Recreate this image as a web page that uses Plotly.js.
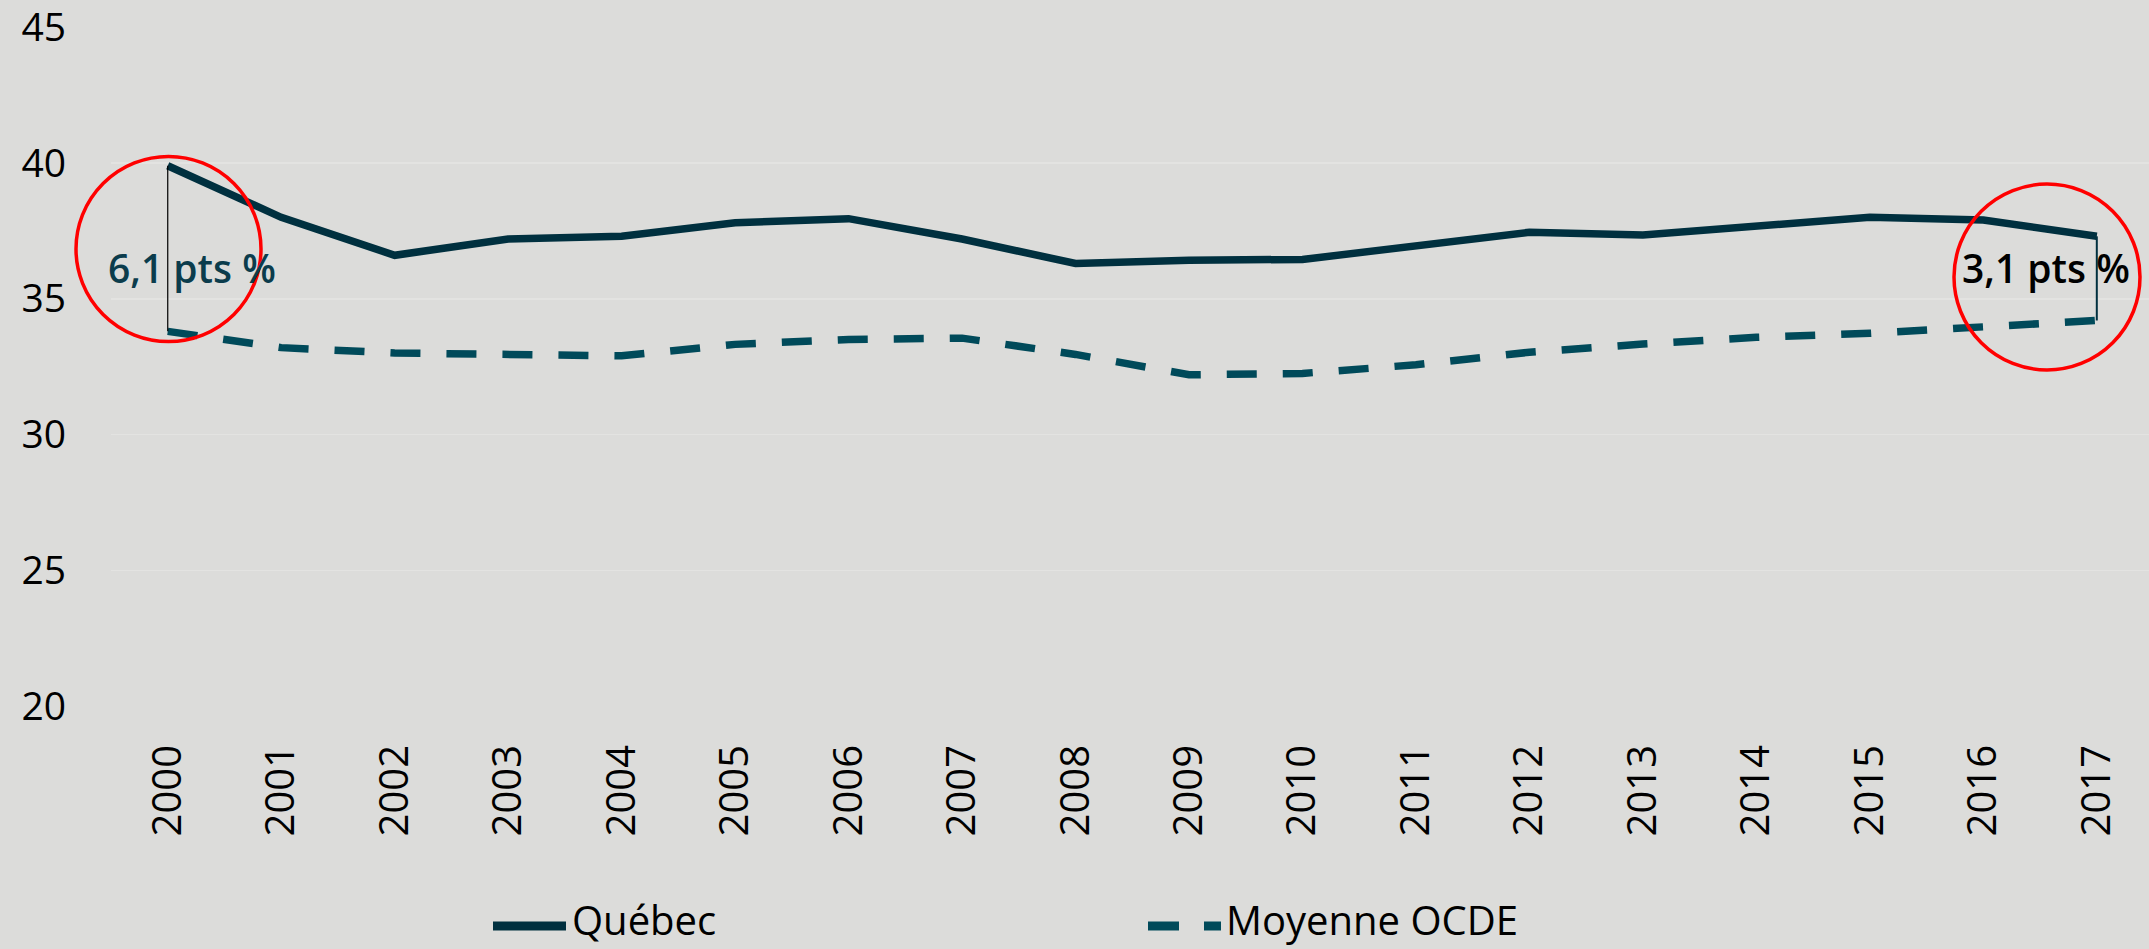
<!DOCTYPE html>
<html>
<head>
<meta charset="utf-8">
<script src="https://cdn.plot.ly/plotly-3.0.1.min.js"></script>
<style>
html,body{margin:0;padding:0;background:#dcdcda;}
#chart{width:2149px;height:949px;}
</style>
</head>
<body>
<div id="chart"></div>
<script>
const years = [2000,2001,2002,2003,2004,2005,2006,2007,2008,2009,2010,2011,2012,2013,2014,2015,2016,2017];
const quebec = [39.9,38.0,36.6,37.2,37.3,37.8,37.95,37.2,36.3,36.42,36.45,36.95,37.45,37.35,37.65,38.0,37.9,37.3];
const ocde = [33.8,33.2,33.0,32.92,32.9,33.32,33.5,33.55,32.95,32.2,32.25,32.57,33.03,33.33,33.58,33.73,33.98,34.2];
const seriesNames = ['Québec','Moyenne OCDE'];
const yTicks = [20,25,30,35,40,45];
const gapLabels = ['6,1 pts %','3,1 pts %'];

const bg = '#dcdcda';
const cQ = '#00303f';
const cO = '#004a5a';
const W = 2149, H = 949, ML = 111, MT = 27, MB = 243;
const PW = W - ML, PH = H - MT - MB;
const px2x = p => (p - ML) / PW;
const py2y = p => (H - MB - p) / PH;

const traces = [
  {x: years, y: quebec, name: seriesNames[0], type: 'scatter', mode: 'lines',
   line: {color: cQ, width: 7.5}, showlegend: false},
  {x: years, y: ocde, name: seriesNames[1], type: 'scatter', mode: 'lines',
   line: {color: cO, width: 7.5, dash: '30px,26px'}, showlegend: false}
];

const first = 0, last = years.length - 1;
const legY = py2y(926);
const layout = {
  width: W, height: H,
  paper_bgcolor: bg, plot_bgcolor: bg,
  margin: {l: ML, r: 0, t: MT, b: MB},
  font: {family: 'Open Sans, sans-serif', color: '#000'},
  xaxis: {
    range: [1999.5, 2017.46], tickmode: 'array', tickvals: years, ticktext: years.map(String),
    tickangle: -90, showgrid: false, zeroline: false, showline: false, ticks: '',
    tickfont: {size: 40, color: '#000'}, ticklabelstandoff: 30
  },
  yaxis: {
    range: [20, 45.01], tickmode: 'array', tickvals: yTicks, ticktext: yTicks.map(String), showgrid: true, gridcolor: '#e3e3e1', gridwidth: 1.5,
    zeroline: false, showline: false, ticks: '', tickfont: {size: 39, color: '#000'}, ticklabelstandoff: 44,
    ticklabeloverflow: 'allow'
  },
  showlegend: false,
  shapes: [
    {type: 'line', xref: 'x', yref: 'y', x0: years[first], x1: years[first], y0: quebec[first], y1: ocde[first],
     line: {color: '#000', width: 1.2}},
    {type: 'line', xref: 'x', yref: 'y', x0: years[last], x1: years[last], y0: quebec[last], y1: ocde[last],
     line: {color: cQ, width: 2}},
    {type: 'circle', xref: 'paper', yref: 'paper', xsizemode: 'pixel', ysizemode: 'pixel',
     xanchor: px2x(168.5), yanchor: py2y(249), x0: -92.5, x1: 92.5, y0: -92.5, y1: 92.5,
     line: {color: '#ff0000', width: 3.5}},
    {type: 'circle', xref: 'paper', yref: 'paper', xsizemode: 'pixel', ysizemode: 'pixel',
     xanchor: px2x(2047), yanchor: py2y(277), x0: -93, x1: 93, y0: -93, y1: 93,
     line: {color: '#ff0000', width: 3.5}},
    {type: 'line', xref: 'paper', yref: 'paper', x0: px2x(493), x1: px2x(566), y0: legY, y1: legY,
     line: {color: cQ, width: 9}},
    {type: 'line', xref: 'paper', yref: 'paper', x0: px2x(1148), x1: px2x(1221), y0: legY, y1: legY,
     line: {color: cO, width: 9, dash: '31px,25px'}}
  ],
  annotations: [
    {xref: 'x', yref: 'y', x: 2000.21, y: 36.15, text: gapLabels[0], showarrow: false,
     font: {family: 'Open Sans, sans-serif', size: 39, color: '#0b3c4c', weight: 600}},
    {xref: 'x', yref: 'y', x: 2016.555, y: 36.15, text: gapLabels[1], showarrow: false,
     font: {family: 'Open Sans, sans-serif', size: 39, color: '#000', weight: 600}},
    {xref: 'paper', yref: 'paper', x: px2x(570), y: py2y(949), xanchor: 'left', yanchor: 'bottom',
     text: seriesNames[0], showarrow: false, font: {size: 40, color: '#000'}},
    {xref: 'paper', yref: 'paper', x: px2x(1224), y: py2y(949), xanchor: 'left', yanchor: 'bottom',
     text: seriesNames[1], showarrow: false, font: {size: 40, color: '#000'}}
  ]
};

Plotly.newPlot('chart', traces, layout, {displayModeBar: false, staticPlot: true});
</script>
</body>
</html>
